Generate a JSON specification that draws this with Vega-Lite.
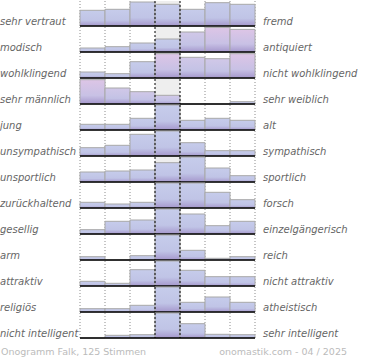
{
  "$schema": "https://vega.github.io/schema/vega-lite/v6.json",
  "padding": 0,
  "background": "white",
  "config": {"view": {"stroke": null}},
  "datasets": {
    "labels": [
      {"i": 1, "l": "sehr vertraut", "r": "fremd"},
      {"i": 2, "l": "modisch", "r": "antiquiert"},
      {"i": 3, "l": "wohlklingend", "r": "nicht wohlklingend"},
      {"i": 4, "l": "sehr männlich", "r": "sehr weiblich"},
      {"i": 5, "l": "\u00a0jung", "r": "alt"},
      {"i": 6, "l": "unsympathisch", "r": "sympathisch"},
      {"i": 7, "l": "unsportlich", "r": "sportlich"},
      {"i": 8, "l": "zurückhaltend", "r": "forsch"},
      {"i": 9, "l": "gesellig", "r": "einzelgängerisch"},
      {"i": 10, "l": "arm", "r": "reich"},
      {"i": 11, "l": "attraktiv", "r": "nicht attraktiv"},
      {"i": 12, "l": "religiös", "r": "atheistisch"},
      {"i": 13, "l": "nicht intelligent", "r": "sehr intelligent"}
    ]
  },
  "data": {"values": [
    {"i":1,"k":1,"v":15.7,"c":"b"},{"i":1,"k":2,"v":16.7,"c":"b"},{"i":1,"k":3,"v":24,"c":"b"},{"i":1,"k":4,"v":21.7,"c":"b"},{"i":1,"k":5,"v":16.7,"c":"b"},{"i":1,"k":6,"v":23.3,"c":"b"},{"i":1,"k":7,"v":21.7,"c":"b"},
    {"i":2,"k":1,"v":4,"c":"b"},{"i":2,"k":2,"v":5.3,"c":"b"},{"i":2,"k":3,"v":9,"c":"b"},{"i":2,"k":4,"v":13,"c":"b"},{"i":2,"k":5,"v":20,"c":"m"},{"i":2,"k":6,"v":24.6,"c":"p"},{"i":2,"k":7,"v":22.6,"c":"p"},
    {"i":3,"k":1,"v":6,"c":"b"},{"i":3,"k":2,"v":4.3,"c":"b"},{"i":3,"k":3,"v":16.3,"c":"b"},{"i":3,"k":4,"v":24.3,"c":"p"},{"i":3,"k":5,"v":20.7,"c":"m"},{"i":3,"k":6,"v":19.3,"c":"m"},{"i":3,"k":7,"v":24.3,"c":"p"},
    {"i":4,"k":1,"v":24.3,"c":"p"},{"i":4,"k":2,"v":16,"c":"m"},{"i":4,"k":3,"v":12.3,"c":"m"},{"i":4,"k":4,"v":8.7,"c":"m"},{"i":4,"k":5,"v":0,"c":"b"},{"i":4,"k":6,"v":0,"c":"b"},{"i":4,"k":7,"v":2.3,"c":"b"},
    {"i":5,"k":1,"v":5.7,"c":"b"},{"i":5,"k":2,"v":5.7,"c":"b"},{"i":5,"k":3,"v":11.7,"c":"b"},{"i":5,"k":4,"v":25,"c":"b"},{"i":5,"k":5,"v":9.7,"c":"b"},{"i":5,"k":6,"v":11.7,"c":"b"},{"i":5,"k":7,"v":9.7,"c":"b"},
    {"i":6,"k":1,"v":8.3,"c":"b"},{"i":6,"k":2,"v":10.7,"c":"b"},{"i":6,"k":3,"v":21.7,"c":"b"},{"i":6,"k":4,"v":25,"c":"b"},{"i":6,"k":5,"v":13.3,"c":"b"},{"i":6,"k":6,"v":5.3,"c":"b"},{"i":6,"k":7,"v":5.3,"c":"b"},
    {"i":7,"k":1,"v":10,"c":"b"},{"i":7,"k":2,"v":11,"c":"b"},{"i":7,"k":3,"v":12,"c":"b"},{"i":7,"k":4,"v":19.3,"c":"b"},{"i":7,"k":5,"v":25,"c":"b"},{"i":7,"k":6,"v":14,"c":"b"},{"i":7,"k":7,"v":6.3,"c":"b"},
    {"i":8,"k":1,"v":5.7,"c":"b"},{"i":8,"k":2,"v":4,"c":"b"},{"i":8,"k":3,"v":5.7,"c":"b"},{"i":8,"k":4,"v":25,"c":"b"},{"i":8,"k":5,"v":25,"c":"b"},{"i":8,"k":6,"v":15.7,"c":"b"},{"i":8,"k":7,"v":8.3,"c":"b"},
    {"i":9,"k":1,"v":4.3,"c":"b"},{"i":9,"k":2,"v":12.7,"c":"b"},{"i":9,"k":3,"v":14,"c":"b"},{"i":9,"k":4,"v":25,"c":"b"},{"i":9,"k":5,"v":20,"c":"b"},{"i":9,"k":6,"v":8.3,"c":"b"},{"i":9,"k":7,"v":12.7,"c":"b"},
    {"i":10,"k":1,"v":3.3,"c":"b"},{"i":10,"k":2,"v":0,"c":"b"},{"i":10,"k":3,"v":4.3,"c":"b"},{"i":10,"k":4,"v":25,"c":"b"},{"i":10,"k":5,"v":9.7,"c":"b"},{"i":10,"k":6,"v":1.7,"c":"b"},{"i":10,"k":7,"v":3.3,"c":"b"},
    {"i":11,"k":1,"v":4.7,"c":"b"},{"i":11,"k":2,"v":2.7,"c":"b"},{"i":11,"k":3,"v":16.3,"c":"b"},{"i":11,"k":4,"v":25,"c":"b"},{"i":11,"k":5,"v":15.7,"c":"b"},{"i":11,"k":6,"v":9.3,"c":"b"},{"i":11,"k":7,"v":9.3,"c":"b"},
    {"i":12,"k":1,"v":3.3,"c":"b"},{"i":12,"k":2,"v":3.3,"c":"b"},{"i":12,"k":3,"v":6.7,"c":"b"},{"i":12,"k":4,"v":25,"c":"b"},{"i":12,"k":5,"v":9.7,"c":"b"},{"i":12,"k":6,"v":15,"c":"b"},{"i":12,"k":7,"v":9.7,"c":"b"},
    {"i":13,"k":1,"v":0,"c":"b"},{"i":13,"k":2,"v":2.7,"c":"b"},{"i":13,"k":3,"v":3.3,"c":"b"},{"i":13,"k":4,"v":25,"c":"b"},{"i":13,"k":5,"v":14.3,"c":"b"},{"i":13,"k":6,"v":3.7,"c":"b"},{"i":13,"k":7,"v":3.3,"c":"b"}
  ]},
  "transform": [
    {"lookup": "i", "from": {"data": {"name": "labels"}, "key": "i", "fields": ["l", "r"]}}
  ],
  "facet": {"row": {"field": "i", "type": "ordinal", "header": null}},
  "spacing": {"row": 1},
  "bounds": "flush",
  "spec": {
    "width": 175,
    "height": 25,
    "layer": [
      {
        "transform": [{"filter": "datum.k == 4"}],
        "mark": {"type": "bar", "fill": "#eeeeee"},
        "encoding": {
          "x": {"field": "k", "type": "ordinal", "scale": {"domain": [1,2,3,4,5,6,7], "paddingInner": 0, "paddingOuter": 0}, "axis": null},
          "y": {"datum": 25, "type": "quantitative", "scale": {"domain": [0, 25], "nice": false}, "axis": null},
          "y2": {"datum": 0}
        }
      },
      {
        "transform": [{"filter": "datum.k == 1 || datum.k == 2 || datum.k == 3 || datum.k == 6 || datum.k == 7"}],
        "mark": {"type": "rule", "stroke": "#8c8c8c", "strokeDash": [1, 2], "strokeWidth": 1},
        "encoding": {
          "x": {"field": "k", "type": "ordinal", "bandPosition": 0}
        }
      },
      {
        "transform": [{"filter": "datum.k == 7"}],
        "mark": {"type": "rule", "stroke": "#8c8c8c", "strokeDash": [1, 2], "strokeWidth": 1},
        "encoding": {
          "x": {"field": "k", "type": "ordinal", "bandPosition": 1}
        }
      },
      {
        "mark": {"type": "bar", "stroke": "#a8a8a8", "strokeWidth": 1},
        "encoding": {
          "x": {"field": "k", "type": "ordinal"},
          "y": {"field": "v", "type": "quantitative"},
          "fill": {
            "condition": [
              {"test": "datum.c === 'p'", "value": {"gradient": "linear", "x1": 0, "y1": 0, "x2": 0, "y2": 1, "stops": [{"offset": 0, "color": "#ddc5e6"}, {"offset": 0.65, "color": "#c8c1e5"}, {"offset": 1, "color": "#a597cc"}]}},
              {"test": "datum.c === 'm'", "value": {"gradient": "linear", "x1": 0, "y1": 0, "x2": 0, "y2": 1, "stops": [{"offset": 0, "color": "#d1c8e8"}, {"offset": 0.65, "color": "#c3c2e5"}, {"offset": 1, "color": "#a597cc"}]}}
            ],
            "value": {"gradient": "linear", "x1": 0, "y1": 0, "x2": 0, "y2": 1, "stops": [{"offset": 0, "color": "#c6cceb"}, {"offset": 0.65, "color": "#c0c4e6"}, {"offset": 1, "color": "#a597cc"}]}
          }
        }
      },
      {
        "transform": [{"filter": "datum.k == 1"}],
        "mark": {"type": "rule", "stroke": "#000000", "strokeWidth": 1.3},
        "encoding": {
          "y": {"datum": 0, "type": "quantitative"}
        }
      },
      {
        "transform": [{"filter": "datum.k == 4 || datum.k == 5"}],
        "mark": {"type": "rule", "stroke": "#000000", "strokeDash": [2, 2], "strokeWidth": 1},
        "encoding": {
          "x": {"field": "k", "type": "ordinal", "bandPosition": 0}
        }
      },
      {
        "transform": [{"filter": "datum.k == 1"}],
        "mark": {"type": "text", "align": "left", "baseline": "alphabetic", "dx": -80, "dy": -1, "font": "DejaVu Sans", "fontSize": 10, "fontStyle": "italic", "fill": "#666666"},
        "encoding": {
          "x": {"field": "k", "type": "ordinal", "bandPosition": 0},
          "y": {"datum": 0, "type": "quantitative"},
          "text": {"field": "l"}
        }
      },
      {
        "transform": [{"filter": "datum.k == 7"}],
        "mark": {"type": "text", "align": "left", "baseline": "alphabetic", "dx": 8, "dy": -1, "font": "DejaVu Sans", "fontSize": 10, "fontStyle": "italic", "fill": "#666666"},
        "encoding": {
          "x": {"field": "k", "type": "ordinal", "bandPosition": 1},
          "y": {"datum": 0, "type": "quantitative"},
          "text": {"field": "r"}
        }
      },
      {
        "transform": [{"filter": "datum.i == 13 && datum.k == 1"}],
        "mark": {"type": "text", "text": "Onogramm Falk, 125 Stimmen", "align": "left", "baseline": "alphabetic", "dx": -79, "dy": 17, "font": "DejaVu Sans", "fontSize": 9.5, "fill": "#bbbbbb"},
        "encoding": {
          "x": {"field": "k", "type": "ordinal", "bandPosition": 0},
          "y": {"datum": 0, "type": "quantitative"}
        }
      },
      {
        "transform": [{"filter": "datum.i == 13 && datum.k == 7"}],
        "mark": {"type": "text", "text": "onomastik.com - 04 / 2025", "align": "right", "baseline": "alphabetic", "dx": 92, "dy": 17, "font": "DejaVu Sans", "fontSize": 9.5, "fill": "#bbbbbb"},
        "encoding": {
          "x": {"field": "k", "type": "ordinal", "bandPosition": 1},
          "y": {"datum": 0, "type": "quantitative"}
        }
      }
    ]
  }
}
